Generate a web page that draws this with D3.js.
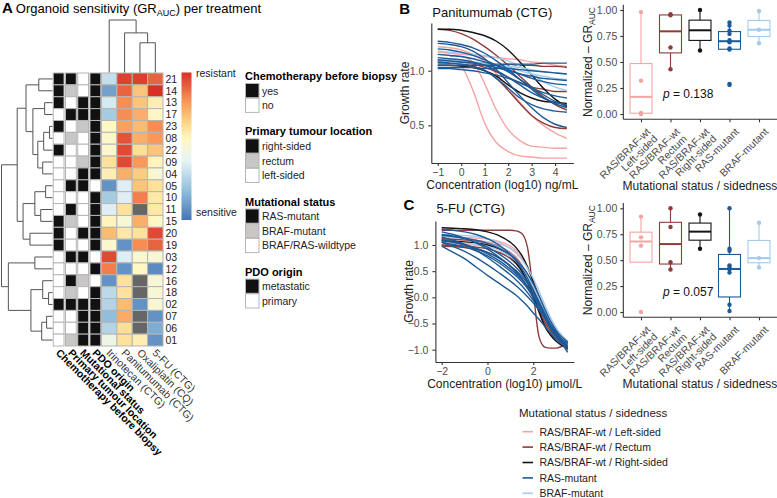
<!DOCTYPE html>
<html><head><meta charset="utf-8">
<script src="https://cdn.jsdelivr.net/npm/d3@7"></script>
<style>body{margin:0;background:#fff} svg{font-family:"Liberation Sans",Arial,sans-serif}</style>
</head><body><svg id="c" width="777" height="498"></svg>
<script>
// ================= DATA =================
const organoids = ["21","14","13","17","23","08","22","09","04","05","10","11","15","20","19","03","12","16","18","02","07","06","01"];
const treatments = ["Irinotecan (CTG)","Panitumumab (CTG)","Oxaliplatin (CQ)","5-FU (CTG)"];
// scaled GR AUC (0 = sensitive, 1 = resistant), null = not available
const grIrinotecan  = [0.32,0.12,0.36,0.25,0.55,0.53,0.53,0.62,0.58,0.08,0.25,0.38,0.56,0.72,0.52,0.95,0.85,0.08,0.30,0.28,0.20,0.28,0.45];
const grPanitumumab = [0.97,0.90,0.82,0.82,0.78,0.93,0.95,0.95,0.75,0.38,0.38,0.62,0.50,0.60,0.08,0.38,0.08,0.62,0.62,0.72,0.76,0.63,0.62];
const grOxaliplatin = [0.97,0.70,0.70,0.75,0.72,0.75,0.63,0.80,0.68,0.70,0.85,null,0.75,0.62,0.82,0.52,0.55,null,null,0.08,null,null,0.58];
const gr5FU         = [0.90,1.00,0.58,0.54,0.82,0.80,0.70,0.56,0.50,0.62,0.60,0.60,0.55,0.95,0.90,0.50,0.06,0.50,0.50,0.50,0.08,0.15,0.08];
const annotationNames = ["Chemotherapy before biopsy","Primary tumour location","Mutational status","PDO origin"];
const chemoStatus  = ["yes","yes","yes","no","yes","no","yes","no","no","no","no","no","yes","yes","yes","no","no","no","no","yes","no","no","no"];
const tumourLocation = ["right-sided","rectum","left-sided","right-sided","left-sided","rectum","left-sided","left-sided","left-sided","right-sided","left-sided","right-sided","rectum","left-sided","left-sided","right-sided","left-sided","right-sided","rectum","right-sided","left-sided","left-sided","rectum"];
const mutationStatus = ["BRAF/RAS-wildtype","BRAF/RAS-wildtype","RAS-mutant","RAS-mutant","BRAF-mutant","BRAF/RAS-wildtype","BRAF/RAS-wildtype","BRAF-mutant","RAS-mutant","RAS-mutant","BRAF/RAS-wildtype","BRAF/RAS-wildtype","BRAF/RAS-wildtype","RAS-mutant","BRAF/RAS-wildtype","RAS-mutant","BRAF/RAS-wildtype","BRAF-mutant","BRAF/RAS-wildtype","RAS-mutant","RAS-mutant","RAS-mutant","RAS-mutant"];
const pdoOrigin   = ["metastatic","metastatic","metastatic","metastatic","metastatic","metastatic","metastatic","metastatic","metastatic","primary","metastatic","metastatic","metastatic","metastatic","metastatic","primary","metastatic","primary","metastatic","metastatic","metastatic","metastatic","metastatic"];
const chemoLevels = ["yes","no"];
const locationLevels = ["right-sided","rectum","left-sided"];
const mutationLevels = ["RAS-mutant","BRAF-mutant","BRAF/RAS-wildtype"];
const originLevels = ["metastatic","primary"];
// dendrograms: [height, left, right]
const rowTree = [52,
  [36,
    [27, [14,"21","14"], [20,[8,"13","17"],[15,[9,[3,"23","08"],"22"],[10,"09","04"]]]],
    [30, [18,[7,"05","10"],[12,"11","15"]], [23,"20","19"]]],
  [45, [18,"03","12"], [22,[10,"16",[4,"18","02"]],[11,[6,"07","06"],"01"]]]];
const colTree = [53, "Irinotecan (CTG)", [40, "Panitumumab (CTG)", [30, "Oxaliplatin (CQ)", "5-FU (CTG)"]]];

const groups = ["RAS/BRAF-wt / Left-sided","RAS/BRAF-wt / Rectum","RAS/BRAF-wt / Right-sided","RAS-mutant","BRAF-mutant"];
const groupTickLabels = [["RAS/BRAF-wt","Left-sided"],["RAS/BRAF-wt","Rectum"],["RAS/BRAF-wt","Right-sided"],["RAS-mutant"],["BRAF-mutant"]];
const groupColors = ["#f5a4a4","#8e3b3b","#141414","#1d5a96","#a3cbee"];

// Panel B: Panitumumab growth-rate curves
const panitumumabX = [-1,-0.5,0,0.5,1,1.5,2,2.5,3,3.5,4,4.5];
const panitumumabGroup = [0,0,0,0,1,1,1,1,2,2,3,3,3,3,3,3,3,3,3,3,4,4,4];
const panitumumabGR = [
  [1.17,1.16,1.15,1.14,1.13,1.12,1.11,1.10,1.08,1.07,1.05,1.04],
  [1.15,1.14,1.13,1.08,0.88,0.64,0.46,0.36,0.31,0.30,0.29,0.29],
  [1.10,1.09,1.04,0.82,0.52,0.34,0.26,0.22,0.21,0.20,0.20,0.20],
  [1.22,1.21,1.19,1.15,1.08,0.97,0.84,0.71,0.59,0.50,0.43,0.38],
  [1.38,1.37,1.34,1.29,1.22,1.14,1.05,0.95,0.85,0.76,0.69,0.64],
  [1.08,1.08,1.08,1.07,1.07,1.06,1.06,1.05,1.05,1.04,1.04,1.03],
  [1.07,1.07,1.06,1.04,1.00,0.93,0.82,0.70,0.59,0.52,0.48,0.47],
  [1.10,1.09,1.08,1.06,1.03,0.99,0.94,0.89,0.85,0.83,0.81,0.81],
  [1.38,1.38,1.37,1.35,1.32,1.27,1.19,1.08,0.96,0.84,0.74,0.67],
  [1.05,1.05,1.04,1.03,1.00,0.95,0.87,0.80,0.75,0.72,0.71,0.70],
  [1.27,1.26,1.24,1.21,1.16,1.09,1.01,0.92,0.83,0.75,0.70,0.66],
  [1.25,1.24,1.22,1.18,1.11,1.01,0.89,0.77,0.66,0.57,0.51,0.48],
  [1.20,1.19,1.17,1.14,1.10,1.05,0.99,0.92,0.85,0.78,0.72,0.68],
  [1.15,1.14,1.13,1.11,1.08,1.05,1.01,0.97,0.93,0.90,0.88,0.87],
  [1.10,1.09,1.08,1.07,1.05,1.03,1.00,0.97,0.95,0.93,0.92,0.91],
  [1.05,1.05,1.05,1.05,1.05,1.05,1.06,1.06,1.06,1.07,1.07,1.07],
  [1.03,1.03,1.03,1.03,1.02,1.02,1.02,1.01,1.00,0.99,0.98,0.97],
  [1.08,1.07,1.06,1.04,1.00,0.93,0.84,0.75,0.69,0.65,0.63,0.62],
  [1.12,1.11,1.10,1.08,1.05,1.00,0.94,0.87,0.80,0.75,0.71,0.69],
  [1.02,1.02,1.01,1.00,0.98,0.96,0.93,0.89,0.84,0.80,0.77,0.75],
  [1.18,1.17,1.16,1.15,1.14,1.12,1.09,1.04,0.97,0.90,0.85,0.82],
  [1.08,1.08,1.07,1.07,1.06,1.05,1.04,1.03,1.01,0.99,0.98,0.97],
  [1.10,1.10,1.09,1.08,1.07,1.05,1.03,1.00,0.97,0.95,0.93,0.92]
];
// Panel C: 5-FU growth-rate curves
const fuX = [-2,-1.5,-1,-0.5,0,0.5,1,1.25,1.5,1.75,2,2.25,2.5,2.75,3,3.5];
const fuGroup = [0,0,0,0,1,1,1,1,2,2,3,3,3,3,3,3,3,3,3,3,4,4,4];
const fuGR = [
  [1.15,1.15,1.14,1.13,1.11,1.07,0.98,0.90,0.78,0.58,0.32,0.02,-0.28,-0.52,-0.70,-0.88],
  [1.10,1.10,1.09,1.08,1.06,1.02,0.94,0.86,0.74,0.56,0.30,0.04,-0.22,-0.45,-0.64,-0.92],
  [1.02,1.02,1.01,1.00,0.98,0.94,0.85,0.76,0.62,0.42,0.15,-0.15,-0.42,-0.62,-0.76,-0.95],
  [1.12,1.11,1.10,1.08,1.04,0.98,0.86,0.77,0.62,0.40,0.14,-0.14,-0.40,-0.60,-0.75,-1.03],
  [1.28,1.28,1.28,1.28,1.28,1.28,1.28,1.27,1.22,0.95,0.10,-0.75,-0.95,-0.97,-0.97,-0.86],
  [1.00,0.99,0.98,0.96,0.93,0.86,0.74,0.64,0.50,0.30,0.05,-0.25,-0.52,-0.70,-0.80,-0.92],
  [0.98,0.97,0.95,0.92,0.86,0.76,0.60,0.49,0.35,0.18,-0.02,-0.25,-0.47,-0.64,-0.76,-0.93],
  [1.12,1.11,1.10,1.08,1.04,0.97,0.84,0.74,0.60,0.42,0.18,-0.08,-0.35,-0.57,-0.72,-0.90],
  [1.33,1.32,1.31,1.29,1.25,1.18,1.05,0.95,0.80,0.58,0.30,0.00,-0.30,-0.55,-0.72,-0.90],
  [1.08,1.07,1.06,1.04,1.00,0.92,0.78,0.66,0.50,0.28,0.02,-0.28,-0.55,-0.72,-0.84,-0.98],
  [0.98,0.86,0.74,0.58,0.42,0.27,0.12,0.04,-0.06,-0.17,-0.30,-0.42,-0.55,-0.68,-0.80,-0.97],
  [1.05,0.97,0.88,0.76,0.62,0.47,0.31,0.22,0.12,0.01,-0.11,-0.24,-0.38,-0.52,-0.66,-0.95],
  [1.15,1.09,1.01,0.90,0.76,0.60,0.43,0.33,0.22,0.09,-0.06,-0.22,-0.40,-0.57,-0.72,-0.97],
  [1.25,1.20,1.13,1.04,0.92,0.77,0.59,0.48,0.36,0.21,0.04,-0.16,-0.38,-0.58,-0.74,-0.98],
  [1.20,1.17,1.12,1.05,0.96,0.83,0.67,0.57,0.45,0.30,0.12,-0.10,-0.34,-0.55,-0.72,-1.00],
  [1.10,1.06,1.01,0.93,0.83,0.70,0.54,0.45,0.34,0.21,0.06,-0.12,-0.32,-0.52,-0.68,-0.92],
  [1.30,1.28,1.25,1.20,1.12,1.00,0.82,0.70,0.55,0.36,0.13,-0.13,-0.40,-0.60,-0.75,-0.95],
  [1.05,1.01,0.96,0.89,0.79,0.66,0.50,0.41,0.30,0.17,0.01,-0.17,-0.37,-0.55,-0.70,-0.88],
  [1.18,1.16,1.13,1.09,1.03,0.94,0.81,0.72,0.60,0.45,0.26,0.03,-0.22,-0.45,-0.63,-0.85],
  [1.08,1.05,1.00,0.94,0.86,0.75,0.60,0.51,0.40,0.27,0.11,-0.08,-0.30,-0.52,-0.70,-1.05],
  [1.20,1.19,1.18,1.16,1.12,1.05,0.93,0.84,0.72,0.56,0.36,0.12,-0.14,-0.38,-0.58,-0.84],
  [1.05,1.04,1.03,1.01,0.97,0.90,0.78,0.69,0.57,0.41,0.21,-0.02,-0.27,-0.49,-0.66,-0.90],
  [1.15,1.14,1.12,1.09,1.04,0.96,0.83,0.73,0.60,0.43,0.22,-0.02,-0.28,-0.50,-0.67,-0.93]
];
// Box plots: [lower whisker, Q1, median, Q3, upper whisker] per group
const panitumumabBox = [[0.0,0.0075,0.165,0.485,0.98],[0.43,0.5875,0.795,0.9525,0.96],[0.61,0.7075,0.805,0.9025,1.0],[0.62,0.6225,0.70,0.7925,0.88],[0.68,0.745,0.81,0.90,0.99]];
const panitumumabPoints = [[0.98,0.32,0.01,0.0],[0.96,0.95,0.64,0.43],[1.0,0.61],[0.88,0.85,0.80,0.77,0.71,0.69,0.63,0.62,0.29,0.28],[0.99,0.81,0.68]];
const fuBox = [[0.48,0.48,0.68,0.77,0.92],[0.41,0.4625,0.655,0.865,1.0],[0.61,0.6925,0.775,0.8575,0.94],[0.01,0.145,0.415,0.555,1.0],[0.43,0.475,0.52,0.69,0.86]];
const fuPoints = [[0.92,0.72,0.64,0.0],[1.0,0.82,0.48,0.41],[0.94,0.61],[1.0,0.61,0.59,0.45,0.43,0.41,0.38,0.07,0.01],[0.86,0.52,0.43]];
const pValues = ["0.138","0.057"];
const boxTicks = [0,0.25,0.5,0.75,1];

// ================= DRAWING =================
const svg = d3.select("#c");
const txtCol = "#4d4d4d";

// ---- Panel A title
const tA = svg.append("text").attr("x",2).attr("y",13).attr("font-size",13);
tA.append("tspan").attr("font-weight","bold").attr("font-size",15).text("A");
tA.append("tspan").attr("dx",3).text("Organoid sensitivity (GR");
tA.append("tspan").attr("font-size",9).attr("dy",3).text("AUC");
tA.append("tspan").attr("dy",-3).text(") per treatment");

const rowY = d3.scaleBand().domain(organoids).range([73, 346]);
const annX = d3.scaleBand().domain(annotationNames).range([53, 101]).paddingInner(0.12).paddingOuter(0.02);
const heatX = d3.scaleBand().domain(treatments).range([101.5, 163]);
const heatColor = d3.scaleLinear().domain([0,0.2,0.4,0.55,0.65,0.8,1])
  .range(["#4575b4","#91bfdb","#e6f3f7","#fff7c4","#fdd98b","#f99858","#d73027"]);
const annColor = [d3.scaleOrdinal(chemoLevels,["#111","#fff"]),
  d3.scaleOrdinal(locationLevels,["#111","#c9c6c6","#fff"]),
  d3.scaleOrdinal(mutationLevels,["#111","#c9c6c6","#fff"]),
  d3.scaleOrdinal(originLevels,["#111","#fff"])];
const annData = [chemoStatus, tumourLocation, mutationStatus, pdoOrigin];
const grData = [grIrinotecan, grPanitumumab, grOxaliplatin, gr5FU];

annotationNames.forEach((a,j)=>{
  svg.append("g").selectAll("rect").data(organoids).join("rect")
    .attr("x",annX(a)).attr("width",annX.bandwidth())
    .attr("y",d=>rowY(d)).attr("height",rowY.bandwidth())
    .attr("fill",(d,i)=>annColor[j](annData[j][i]))
    .attr("stroke","#b5b5b5").attr("stroke-width",1);
});
treatments.forEach((t,j)=>{
  svg.append("g").selectAll("rect").data(organoids).join("rect")
    .attr("x",heatX(t)).attr("width",heatX.bandwidth())
    .attr("y",d=>rowY(d)).attr("height",rowY.bandwidth())
    .attr("fill",(d,i)=>grData[j][i]==null?"#666":heatColor(grData[j][i]))
    .attr("stroke","#b5b5b5").attr("stroke-width",1);
});
svg.append("g").selectAll("text").data(organoids).join("text")
  .attr("x",165.5).attr("y",d=>rowY(d)+rowY.bandwidth()/2+3.8)
  .attr("font-size",10.5).attr("fill","#222").text(d=>d);
const colLabelY = 353.5;
svg.append("g").selectAll("text").data(treatments).join("text")
  .attr("transform",d=>`translate(${heatX(d)+heatX.bandwidth()/2-3.5},${colLabelY}) rotate(45)`)
  .attr("text-anchor","start").attr("font-size",10.5).attr("fill","#333").text(d=>d);
svg.append("g").selectAll("text").data(annotationNames).join("text")
  .attr("transform",d=>`translate(${annX(d)+annX.bandwidth()/2-3.5},${colLabelY}) rotate(45)`)
  .attr("text-anchor","start").attr("font-size",10.5).attr("font-weight","bold").attr("fill","#000").text(d=>d);

function treeSegs(node, posOf, segs){
  if (typeof node === "string") return {h:0, p:posOf(node)};
  const a = treeSegs(node[1], posOf, segs), b = treeSegs(node[2], posOf, segs);
  const h = node[0];
  segs.push([h,a.p,h,b.p],[h,a.p,a.h,a.p],[h,b.p,b.h,b.p]);
  return {h, p:(a.p+b.p)/2};
}
const rowSegs = []; treeSegs(rowTree, d=>rowY(d)+rowY.bandwidth()/2, rowSegs);
const rowH = d3.scaleLinear().domain([0,52]).range([52.5,1.5]);
svg.append("g").selectAll("line").data(rowSegs).join("line")
  .attr("x1",d=>rowH(d[0])).attr("y1",d=>d[1]).attr("x2",d=>rowH(d[2])).attr("y2",d=>d[3])
  .attr("stroke","#555").attr("stroke-width",1);
const colSegs = []; treeSegs(colTree, d=>heatX(d)+heatX.bandwidth()/2, colSegs);
const colH = d3.scaleLinear().domain([0,53]).range([72.5,20]);
svg.append("g").selectAll("line").data(colSegs).join("line")
  .attr("y1",d=>colH(d[0])).attr("x1",d=>d[1]).attr("y2",d=>colH(d[2])).attr("x2",d=>d[3])
  .attr("stroke","#555").attr("stroke-width",1);

const defs = svg.append("defs");
const grad = defs.append("linearGradient").attr("id","hg").attr("x1",0).attr("y1",1).attr("x2",0).attr("y2",0);
heatColor.domain().forEach((s,i)=>grad.append("stop").attr("offset",s).attr("stop-color",heatColor.range()[i]));
svg.append("rect").attr("x",181.5).attr("y",72.5).attr("width",10).attr("height",147.5).attr("fill","url(#hg)");
svg.append("text").attr("x",196).attr("y",77).attr("font-size",10.5).attr("fill","#222").text("resistant");
svg.append("text").attr("x",196).attr("y",216).attr("font-size",10.5).attr("fill","#222").text("sensitive");

const annLevels = [chemoLevels, locationLevels, mutationLevels, originLevels];
let ly = 80;
annotationNames.forEach((a,j)=>{
  svg.append("text").attr("x",245).attr("y",ly).attr("font-size",11).attr("font-weight","bold").text(a);
  const g = svg.append("g");
  annLevels[j].forEach((lv,k)=>{
    const y0 = ly + 3.5 + k*14.7;
    g.append("rect").attr("x",245.5).attr("y",y0).attr("width",13.5).attr("height",14.2)
      .attr("fill",annColor[j](lv)).attr("stroke","#b5b5b5");
    g.append("text").attr("x",262).attr("y",y0+11).attr("font-size",10.5).attr("fill","#222").text(lv);
  });
  ly += 3.5 + annLevels[j].length*14.7 + 22.5;
});

// ---- Line panels
function linePanel(opt){
  const x = d3.scaleLinear().domain(opt.xd).range(opt.xr);
  const y = d3.scaleLinear().domain(opt.yd).range(opt.yr);
  const g = svg.append("g");
  const clipId = "clip"+opt.id;
  defs.append("clipPath").attr("id",clipId).append("rect")
    .attr("x",opt.xr[0]).attr("y",opt.yr[1]).attr("width",opt.xr[1]-opt.xr[0]).attr("height",opt.yr[0]-opt.yr[1]);
  const line = d3.line().x((d,i)=>x(opt.xs[i])).y(d=>y(d)).curve(d3.curveMonotoneX);
  const order = [0,1,2,4,3];
  const cg = g.append("g").attr("clip-path",`url(#${clipId})`);
  order.forEach(gr=>{
    cg.append("g").selectAll("path").data(opt.vals.filter((v,i)=>opt.grp[i]===gr)).join("path")
      .attr("d",line).attr("fill","none").attr("stroke",groupColors[gr]).attr("stroke-width",1.4);
  });
  const ax = g.append("g").attr("transform",`translate(0,${opt.yr[0]})`)
    .call(d3.axisBottom(x).tickValues(opt.xt).tickFormat(d3.format("d")).tickSize(3).tickSizeOuter(0));
  const ay = g.append("g").attr("transform",`translate(${opt.xr[0]},0)`)
    .call(d3.axisLeft(y).tickValues(opt.yt).tickFormat(d3.format(".1f")).tickSize(3).tickSizeOuter(0));
  [ax,ay].forEach(a=>{a.selectAll("path,line").attr("stroke","#333").attr("stroke-width",1.1);
    a.selectAll("text").attr("font-size",10.5).attr("fill",txtCol).attr("font-family","Liberation Sans, Arial, sans-serif");});
  ay.selectAll("text").attr("dx",-1);
  g.append("text").attr("x",(opt.xr[0]+opt.xr[1])/2).attr("y",opt.yr[0]+25.5).attr("text-anchor","middle")
    .attr("font-size",12).attr("fill","#222").text(opt.xlab);
  g.append("text").attr("transform",`translate(${opt.xr[0]-22},${(opt.yr[0]+opt.yr[1])/2}) rotate(-90)`)
    .attr("text-anchor","middle").attr("font-size",12).attr("fill","#222").text("Growth rate");
  g.append("text").attr("x",opt.xr[0]-32).attr("y",opt.titleY-3).attr("font-size",15).attr("font-weight","bold").text(opt.id);
  g.append("text").attr("x",opt.xr[0]+1).attr("y",opt.titleY).attr("font-size",13).attr("fill","#111").text(opt.title);
}
linePanel({id:"B", xs:panitumumabX, vals:panitumumabGR, grp:panitumumabGroup,
  xd:[-1.275,4.775], xr:[431.3,573.3], yd:[0.155,1.437], yr:[163,23],
  xt:[-1,0,1,2,3,4], yt:[0.5,1.0], xlab:"Concentration (log10) ng/mL", title:"Panitumumab (CTG)", titleY:16.5});
linePanel({id:"C", xs:fuX, vals:fuGR, grp:fuGroup,
  xd:[-2.275,3.775], xr:[435.4,573.9], yd:[-1.235,1.458], yr:[362,221],
  xt:[-2,0,2], yt:[-1,-0.5,0,0.5,1], xlab:"Concentration (log10) μmol/L", title:"5-FU (CTG)", titleY:213});

// ---- Box panels
function boxPanel(opt){
  const x = d3.scalePoint().domain(groups).range([641,759]);
  const y = d3.scaleLinear().domain([0,1]).range(opt.yr);
  const g = svg.append("g");
  const bw = 22;
  groups.forEach((gr,i)=>{
    const b = opt.box[i], cx = x(gr), col = groupColors[i];
    const bg = g.append("g").attr("stroke",col).attr("fill","none").attr("stroke-width",1.1);
    bg.append("line").attr("x1",cx).attr("x2",cx).attr("y1",y(b[3])).attr("y2",y(b[4]));
    bg.append("line").attr("x1",cx).attr("x2",cx).attr("y1",y(b[1])).attr("y2",y(b[0]));
    bg.append("rect").attr("x",cx-bw/2).attr("width",bw).attr("y",y(b[3])).attr("height",y(b[1])-y(b[3]));
    bg.append("line").attr("x1",cx-bw/2).attr("x2",cx+bw/2).attr("y1",y(b[2])).attr("y2",y(b[2])).attr("stroke-width",2);
    g.append("g").selectAll("circle").data(opt.pts[i]).join("circle")
      .attr("cx",cx).attr("cy",d=>y(d)).attr("r",2.2).attr("fill",col);
  });
  const axisY0 = opt.yr[0]+5.3;
  const ay = g.append("g").attr("transform","translate(623.3,0)")
    .call(d3.axisLeft(y).tickValues(boxTicks).tickFormat(d3.format(".2f")).tickSize(3).tickSizeOuter(0));
  ay.select(".domain").attr("d",`M0,${opt.yr[1]-5.3}V${axisY0}`);
  const ax = g.append("g").attr("transform",`translate(0,${axisY0})`)
    .call(d3.axisBottom(x).tickFormat(()=>"").tickSize(3).tickSizeOuter(0));
  ax.select(".domain").attr("d","M623.3,0H777");
  [ax,ay].forEach(a=>{a.selectAll("path,line").attr("stroke","#333").attr("stroke-width",1.1);
    a.selectAll("text").attr("font-size",10.5).attr("fill",txtCol).attr("font-family","Liberation Sans, Arial, sans-serif");});
  groups.forEach((gr,i)=>{
    const t = g.append("text").attr("transform",`translate(${x(gr)+3},${axisY0+6}) rotate(-45)`)
      .attr("text-anchor","end").attr("font-size",10.5).attr("fill",txtCol);
    groupTickLabels[i].forEach((l,k)=>t.append("tspan").attr("x",0).attr("y",(k+1)*10).text(l));
  });
  g.append("text").attr("x",700).attr("y",axisY0+71).attr("text-anchor","middle").attr("font-size",12).attr("fill","#222")
    .text("Mutational status / sidedness");
  const yt = g.append("text").attr("transform",`translate(${592},${(opt.yr[0]+opt.yr[1])/2}) rotate(-90)`)
    .attr("text-anchor","middle").attr("font-size",12).attr("fill","#222");
  yt.append("tspan").text("Normalized – GR");
  yt.append("tspan").attr("font-size",8.5).attr("dy",3).text("AUC");
  const pt = g.append("text").attr("x",663).attr("y",opt.pY).attr("font-size",12).attr("fill","#111");
  pt.append("tspan").attr("font-style","italic").text("p");
  pt.append("tspan").text(" = "+opt.p);
}
boxPanel({box:panitumumabBox, pts:panitumumabPoints, yr:[114,10], p:pValues[0], pY:97.5});
boxPanel({box:fuBox, pts:fuPoints, yr:[312,208.3], p:pValues[1], pY:295.5});

// ---- bottom legend
const lg = svg.append("g");
lg.append("text").attr("x",519).attr("y",417).attr("font-size",11.5).attr("fill","#222").text("Mutational status / sidedness");
groups.forEach((gr,i)=>{
  const yy = 431.7 + i*15.4;
  lg.append("line").attr("x1",522.5).attr("x2",533).attr("y1",yy).attr("y2",yy).attr("stroke",groupColors[i]).attr("stroke-width",1.6);
  lg.append("text").attr("x",539.5).attr("y",yy+3.8).attr("font-size",10.5).attr("fill","#222").text(gr);
});
</script></body></html>
